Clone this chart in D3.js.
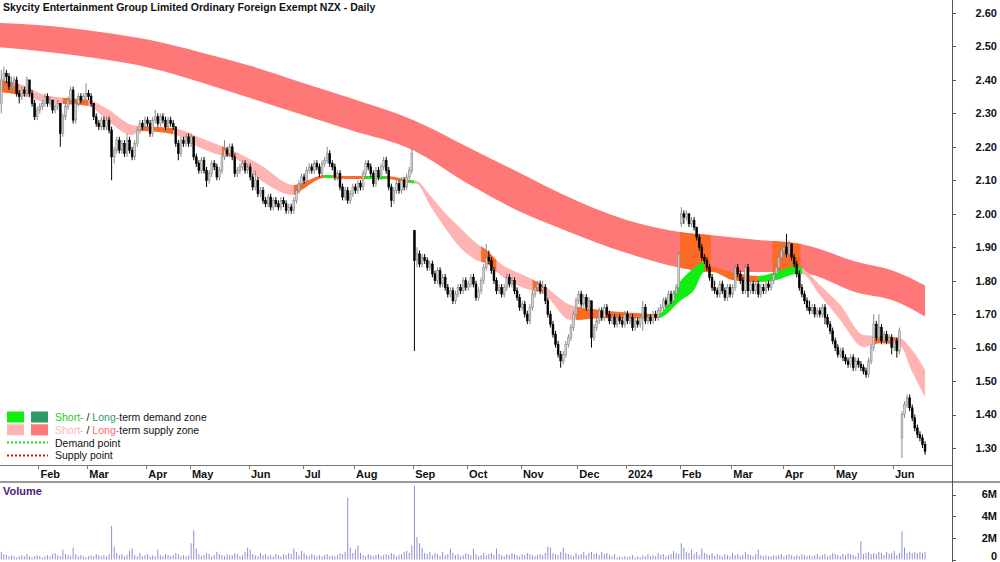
<!DOCTYPE html>
<html>
<head>
<meta charset="utf-8">
<script src="https://cdn.jsdelivr.net/npm/d3@7"></script>
<style>
body { margin: 0; background: #fff; }
svg text { font-family: Arial, "Liberation Sans", sans-serif; }
</style>
</head>
<body>
<svg id="chart" width="1000" height="562"></svg>
<script>
// daily bars [open, high, low, close] in cents, starting 11 Jan 2023
const ohlc = [
[233,243,230,240],[240,244,238,242],[242,243,239,241],[241,242,237,238],[238,241,236,238],[238,241,237,240],[240,241,235,236],[236,237,233,235],[235,238,234,237],[237,238,235,236],
[236,241,235,240],[240,240,235,236],[236,237,232,233],[233,234,228,229],[229,232,228,231],[231,233,230,232],[232,234,231,233],[233,236,232,235],[235,236,232,233],[233,235,232,234],
[234,234,230,231],[231,233,230,232],[232,234,231,233],[233,233,220,224],[224,230,223,229],[229,233,228,232],[232,235,231,234],[234,238,233,237],[237,238,227,228],[228,234,227,233],
[233,236,232,235],[235,236,233,234],[234,236,233,235],[235,239,234,236],[236,237,234,235],[235,236,232,233],[233,233,228,229],[229,230,226,227],[227,228,225,226],[226,229,225,228],
[228,229,225,226],[226,229,225,228],[228,229,224,225],[225,226,210,217],[217,220,215,219],[219,223,218,222],[222,223,218,219],[219,222,218,221],[221,222,217,218],[218,224,217,222],
[222,223,218,219],[219,220,216,217],[217,222,216,221],[221,226,220,225],[225,228,224,227],[227,228,225,226],[226,229,225,228],[228,229,226,227],[227,228,223,224],[224,229,223,228],
[228,231,227,229],[229,230,226,227],[227,230,226,229],[229,230,227,228],[228,229,225,226],[226,229,225,228],[228,229,226,227],[227,228,225,226],[226,226,220,221],[221,222,216,218],
[218,223,217,222],[222,223,220,221],[221,224,220,223],[223,224,220,221],[221,224,220,223],[223,223,216,217],[217,218,214,215],[215,216,212,213],[213,217,212,216],[216,217,212,213],
[213,214,208,210],[210,213,209,212],[212,216,211,215],[215,216,213,214],[214,215,210,211],[211,214,210,213],[213,218,212,217],[217,222,216,219],[219,220,217,218],[218,221,217,220],
[220,221,216,217],[217,218,211,212],[212,214,211,213],[213,215,212,214],[214,216,213,215],[215,216,212,213],[213,215,212,214],[214,215,210,211],[211,212,207,208],[208,213,207,210],
[210,211,205,206],[206,208,205,207],[207,208,203,204],[204,205,202,203],[203,206,202,205],[205,206,201,202],[202,205,201,204],[204,205,202,203],[203,204,201,202],[202,205,201,204],
[204,205,202,203],[203,204,200,201],[201,203,200,202],[202,203,200,201],[201,205,200,204],[204,208,203,207],[207,210,206,209],[209,212,208,211],[211,212,209,210],[210,214,209,213],
[213,215,212,214],[214,215,212,213],[213,216,212,215],[215,216,213,214],[214,215,211,212],[212,216,211,215],[215,217,214,216],[216,220,215,218],[218,219,214,215],[215,216,213,214],
[214,215,210,211],[211,213,210,212],[212,213,207,208],[208,209,204,205],[205,208,204,207],[207,208,203,204],[204,207,203,206],[206,209,205,208],[208,209,206,207],[207,210,206,209],
[209,210,207,208],[208,213,207,212],[212,216,211,215],[215,216,213,214],[214,215,211,212],[212,213,208,209],[209,214,208,213],[213,214,210,211],[211,215,210,214],[214,217,213,216],
[216,217,212,213],[213,214,207,208],[208,209,202,204],[204,208,203,207],[207,210,206,209],[209,210,206,207],[207,211,206,210],[210,211,207,208],[208,212,207,211],[211,214,210,213],
[213,220,212,218],[195,195,159,186],[186,190,184,188],[188,189,184,185],[185,188,184,187],[187,188,185,186],[186,187,183,184],[184,186,183,185],[185,186,181,182],[182,183,179,180],
[180,184,179,183],[183,184,178,179],[179,182,178,181],[181,182,177,178],[178,179,175,176],[176,178,175,177],[177,178,173,174],[174,177,173,176],[176,179,175,178],[178,179,176,177],
[177,181,176,180],[180,181,177,178],[178,180,177,179],[179,182,178,181],[181,182,178,179],[179,180,174,175],[175,178,174,177],[177,181,176,180],[180,185,179,184],[184,191,183,187],
[187,189,185,186],[186,187,182,183],[183,184,179,180],[180,181,176,177],[177,179,176,178],[178,179,175,176],[176,179,175,178],[178,182,177,181],[181,182,178,179],[179,181,178,180],
[180,181,176,177],[177,178,174,175],[175,176,171,172],[172,174,171,173],[173,174,169,170],[170,171,167,168],[168,173,167,172],[172,177,171,176],[176,179,175,178],[178,180,177,179],
[179,180,176,177],[177,180,176,178],[178,179,173,174],[174,175,169,170],[170,171,166,167],[167,168,163,164],[164,165,160,161],[161,162,157,158],[158,159,154,156],[156,159,155,158],
[158,162,157,161],[161,164,160,163],[163,167,162,166],[166,171,165,170],[170,175,169,174],[174,177,173,176],[176,177,172,173],[173,176,172,175],[175,176,171,172],[172,175,171,174],
[174,174,160,163],[163,167,162,166],[166,169,165,168],[168,172,167,171],[171,172,168,169],[169,173,168,172],[172,173,169,170],[170,171,167,168],[168,170,167,169],[169,170,166,167],
[167,170,166,169],[169,170,167,168],[168,169,166,167],[167,171,166,170],[170,171,167,168],[168,170,167,169],[169,170,165,166],[166,169,165,168],[168,169,166,167],[167,170,166,169],
[169,174,165,172],[172,173,167,168],[168,170,167,169],[169,170,167,168],[168,171,167,170],[170,171,168,169],[169,172,168,171],[171,173,170,172],[172,175,171,174],[174,175,172,173],
[173,177,172,176],[176,177,173,174],[174,177,173,176],[176,179,175,178],[178,189,177,188],[197,202,196,200],[200,201,197,199],[199,201,198,200],[200,200,196,197],[197,199,196,198],
[198,199,195,196],[196,196,192,193],[193,194,189,190],[190,191,186,187],[187,188,185,186],[186,187,183,184],[184,185,180,181],[181,182,177,178],[178,180,176,177],[177,178,175,176],
[176,180,175,179],[179,180,176,177],[177,178,174,175],[175,179,174,178],[178,179,175,176],[176,179,175,178],[178,185,177,184],[184,185,181,182],[182,183,179,180],[180,181,176,177],
[177,185,176,184],[184,185,175,177],[177,180,176,179],[179,180,176,177],[177,180,176,179],[179,180,175,176],[176,179,175,178],[178,179,176,177],[177,180,176,179],[179,180,177,178],
[178,181,177,180],[180,183,179,182],[182,185,181,184],[184,188,183,187],[187,190,186,189],[189,191,187,190],[190,194,187,188],[188,192,187,191],[191,191,186,187],[187,188,184,185],
[185,186,181,182],[182,183,177,178],[178,179,175,176],[176,177,173,174],[174,175,171,172],[172,174,170,171],[171,173,170,172],[172,173,169,170],[170,172,169,171],[171,172,169,170],
[170,173,169,172],[172,173,167,169],[169,170,166,167],[167,168,164,165],[165,166,161,162],[162,163,159,160],[160,161,157,158],[158,160,157,159],[159,160,156,157],[157,158,155,156],
[156,157,154,155],[155,158,154,157],[157,158,153,154],[154,157,153,156],[156,157,154,155],[155,156,153,154],[154,155,152,153],[153,154,151,152],[152,157,151,156],[156,161,155,160],
[160,170,159,167],[167,168,162,163],[163,170,162,166],[166,167,161,162],[162,165,161,164],[164,165,161,162],[162,164,161,163],[163,164,158,160],[160,163,159,162],[162,163,157,159],
[159,166,158,165],[133,141,127,140],[140,144,139,143],[143,146,142,145],[145,146,141,142],[142,143,138,139],[139,140,135,136],[136,137,133,134],[134,135,132,133],[133,134,130,131],
[131,132,128,129]
];

// volume per bar, in units of 100k shares
const volumes = [
7,5,4,3,4,3,2,3,4,3, 5,3,2,3,4,3,2,3,4,3, 5,6,4,3,9,5,4,3,11,5, 3,4,3,2,3,4,3,5,4,3,
4,3,5,31,12,6,4,5,3,4, 8,10,4,3,6,3,4,5,3,4, 3,9,4,3,5,4,3,4,6,5, 3,4,3,4,15,27,10,5,3,4,
6,5,3,4,7,5,4,3,5,4, 4,6,5,3,4,7,11,9,5,4, 3,6,4,5,3,4,3,5,4,3, 5,4,6,5,10,7,4,8,6,4,
3,5,4,3,4,3,4,5,3,4, 3,4,6,5,7,57,11,6,9,13, 6,4,3,5,4,3,4,5,3,4, 5,4,6,5,3,4,5,7,8,6,
13,68,21,15,11,6,5,7,4,6, 5,3,7,4,5,10,6,4,5,3, 4,6,5,4,10,5,3,4,6,4, 5,6,4,10,5,4,3,5,4,6,
5,4,3,5,4,6,5,4,3,4, 5,4,6,12,11,6,5,4,7,11, 6,5,4,3,6,4,5,7,4,6, 7,5,6,4,7,5,6,4,3,5,
2,3,2,3,2,3,4,2,3,2, 4,3,5,3,4,3,6,4,5,3, 4,5,8,6,5,15,11,7,6,9, 5,7,4,10,6,5,4,6,3,5,
4,3,5,4,3,6,4,5,3,4, 7,5,4,3,5,9,4,3,4,3, 3,4,3,4,5,3,4,5,4,3, 4,3,5,4,3,4,3,4,5,3,
4,5,3,4,6,5,4,3,5,4, 6,5,4,3,6,17,5,6,7,5, 6,5,7,6,4,7,5,6,8,4, 6,26,11,6,7,6,7,6,7,6,
7
];

// NZX holidays in the period
const holidays = ["2023-02-06","2023-04-07","2023-04-10","2023-04-25","2023-06-05","2023-07-14",
  "2023-10-23","2023-12-25","2023-12-26","2024-01-01","2024-01-02","2024-02-06","2024-03-29",
  "2024-04-01","2024-04-25","2024-06-03"];

// long-term supply band [bar, top, bottom] (cents)
const longBand = [
[-0.5,257.0,249.8],[19,256.1,248.3],[38.5,254.3,246.3],[58,251.9,243.6],[77.4,248.3,239.4],[97,244.2,234.6],
[116.4,239.4,229.8],[136,234.6,225.0],[160.5,228.0,219.0],[182.7,219.6,208.6],[206,210.7,199.3],
[217.7,206.2,195.7],[244,198.1,188.2],[265,194.5,183.8],[277,193.6,182.6],[296,192.1,182.6],[312,190.9,182.3],
[334,185.5,176.3],[347,183.1,174.2],[360,178.6,169.3]
];
// bars where the long band turns orange
const longOverlap = [[264.5,276.5],[300.5,311.5]];

// short-term band [bar, top, bottom] (cents)
const shortBand = [
[-0.5,240.0,236.4],[7,238.8,235.5],[17,235.5,233.4],[25,234.6,232.8],[34,234.0,232.2],[42,231.0,227.4],
[51,226.5,223.5],[54,226.2,224.7],[67,225.6,223.8],[78,222.6,219.6],[85,220.5,217.6],[90,219.0,217.0],
[101,214.6,210.1],[114,208.6,205.6],[117,209.2,207.1],[126,211.6,210.7],[134,211.3,210.4],[142,211.3,210.4],
[150,211.3,210.4],[159,210.1,209.2],[162,209.8,208.9],[167,205.6,202.6],[173,200.2,195.7],[179,195.7,189.8],
[185,191.3,186.2],[190,188.6,184.7],[193,186.2,182.6],[206,180.8,177.2],[211,178.7,176.3],[222,172.7,168.2],
[234,171.2,168.8],[249,170.3,168.8],[256,170.0,168.8],[265,180.2,174.2],[270,183.8,177.2],[274,185.6,182.6],
[277,184.4,182.6],[285,182.6,180.2],[295,181.4,179.6],[302,182.6,180.2],[310,184.4,182.0],[312,183.8,182.0],
[319,178.7,175.7],[327,172.7,168.2],[336,163.8,160.2],[343,163.5,161.4],[350,162.9,160.8],[355,159.3,152.7],
[360,153.3,145.2]
];
// state of the short band: supply (pink), demand (green), mix (orange)
const shortZones = [
[-0.5,7,"mix"],[7,24,"supply"],[24,34,"mix"],[34,54,"supply"],[54,67,"mix"],[67,86,"supply"],
[86,90,"mix"],[90,114,"supply"],[114,126,"mix"],[126,129,"demand"],[129,142,"mix"],[142,150,"demand"],
[150,159,"mix"],[159,161,"demand"],[161,187,"supply"],[187,193,"mix"],[193,207,"supply"],[207,211,"mix"],
[211,224,"supply"],[224,256,"mix"],[256,274,"demand"],[274,295,"mix"],[295,312,"demand"],[312,340,"supply"],
[340,350,"mix"],[350,361,"supply"]
];

const priceTicks = [2.6,2.5,2.4,2.3,2.2,2.1,2.0,1.9,1.8,1.7,1.6,1.5,1.4,1.3];
const volTicks = [6e6,4e6,2e6,0];
const volLabels = ["6M","4M","2M","0"];

const zoneColor = { supply: "#ffb4b4", demand: "#11ee11", mix: "#fb6b26" };

const svg = d3.select("#chart");
const plotW = 952;
const priceBottom = 465;

const x = d3.scaleLinear().domain([-0.5, 370.5]).range([0, plotW]);
const y = d3.scaleLinear().domain([1.30, 2.60]).range([448, 13]);
const yv = d3.scaleLinear().domain([0, 6e6]).range([559.5, 494.5]);

// trading dates
const dates = [];
let day = new Date(Date.UTC(2023, 0, 11));
while (dates.length < ohlc.length) {
  const wd = day.getUTCDay();
  const key = day.toISOString().slice(0, 10);
  if (wd !== 0 && wd !== 6 && !holidays.includes(key)) dates.push(new Date(day));
  day.setUTCDate(day.getUTCDate() + 1);
}

const defs = svg.append("defs");
defs.append("clipPath").attr("id", "priceClip")
  .append("rect").attr("x", 0).attr("y", 0).attr("width", plotW).attr("height", priceBottom);

const price = svg.append("g").attr("clip-path", "url(#priceClip)");

function bandArea() {
  return d3.area()
    .x(d => x(d[0]))
    .y0(d => y(d[2] / 100))
    .y1(d => y(d[1] / 100))
    .curve(d3.curveMonotoneX);
}

// long-term band
price.append("path").datum(longBand)
  .attr("d", bandArea())
  .attr("fill", "#ff7878");

longOverlap.forEach((seg, i) => {
  defs.append("clipPath").attr("id", "lo" + i)
    .append("rect").attr("x", x(seg[0])).attr("y", 0)
    .attr("width", x(seg[1]) - x(seg[0])).attr("height", priceBottom);
  price.append("path").datum(longBand)
    .attr("d", bandArea())
    .attr("fill", zoneColor.mix)
    .attr("clip-path", "url(#lo" + i + ")");
});

// short-term band, coloured by state
shortZones.forEach((seg, i) => {
  defs.append("clipPath").attr("id", "sz" + i)
    .append("rect").attr("x", x(seg[0])).attr("y", 0)
    .attr("width", x(seg[1]) - x(seg[0]) + 0.3).attr("height", priceBottom);
  price.append("path").datum(shortBand)
    .attr("d", bandArea())
    .attr("fill", zoneColor[seg[2]])
    .attr("clip-path", "url(#sz" + i + ")");
});

// candles
const candles = price.selectAll("g.candle")
  .data(ohlc)
  .enter()
  .append("g")
  .attr("class", "candle");

candles.append("line")
  .attr("x1", (d, i) => x(i)).attr("x2", (d, i) => x(i))
  .attr("y1", d => y(d[1] / 100)).attr("y2", d => y(d[2] / 100))
  .attr("stroke", d => d[3] >= d[0] ? "#8a8a8a" : "#000")
  .attr("stroke-width", 1);

candles.append("rect")
  .attr("x", (d, i) => x(i) - 0.9)
  .attr("width", 1.8)
  .attr("y", d => y(Math.max(d[0], d[3]) / 100))
  .attr("height", d => Math.max(1, Math.abs(y(d[0] / 100) - y(d[3] / 100))))
  .attr("fill", d => d[3] >= d[0] ? "#d4d4d4" : "#000")
  .attr("stroke", d => d[3] >= d[0] ? "#8a8a8a" : "#000")
  .attr("stroke-width", 0.6);

// volume bars
svg.append("g").selectAll("line")
  .data(volumes)
  .enter()
  .append("line")
  .attr("x1", (d, i) => x(i)).attr("x2", (d, i) => x(i))
  .attr("y1", yv(0)).attr("y2", d => yv(d * 1e5))
  .attr("stroke", "#8f8fd4")
  .attr("stroke-width", 1);

// frame lines
svg.append("line").attr("x1", 0).attr("x2", plotW + 0.5).attr("y1", priceBottom + 0.5).attr("y2", priceBottom + 0.5)
  .attr("stroke", "#777");
svg.append("line").attr("x1", 0).attr("x2", 1000).attr("y1", 482).attr("y2", 482)
  .attr("stroke", "#999").attr("stroke-width", 2);
svg.append("line").attr("x1", plotW + 0.5).attr("x2", plotW + 0.5).attr("y1", 0).attr("y2", 562)
  .attr("stroke", "#555");

// price axis
const pa = svg.append("g");
pa.selectAll("line").data(priceTicks).enter().append("line")
  .attr("x1", plotW).attr("x2", plotW + 4)
  .attr("y1", d => Math.round(y(d)) + 0.5).attr("y2", d => Math.round(y(d)) + 0.5)
  .attr("stroke", "#555");
pa.selectAll("text").data(priceTicks).enter().append("text")
  .attr("x", 997).attr("y", d => y(d)).attr("dy", "0.35em")
  .attr("text-anchor", "end")
  .attr("font-size", 11).attr("font-weight", "bold").attr("fill", "#111")
  .text(d => d.toFixed(2));

// volume axis
const va = svg.append("g");
va.selectAll("line").data(volTicks).enter().append("line")
  .attr("x1", plotW).attr("x2", plotW + 4)
  .attr("y1", d => Math.round(yv(d)) + 0.5).attr("y2", d => Math.round(yv(d)) + 0.5)
  .attr("stroke", "#555");
va.selectAll("text").data(volTicks).enter().append("text")
  .attr("x", 997).attr("y", d => Math.min(yv(d), 556)).attr("dy", "0.35em")
  .attr("text-anchor", "end")
  .attr("font-size", 11).attr("font-weight", "bold").attr("fill", "#111")
  .text((d, i) => volLabels[i]);

// month ticks
const monthIdx = [];
dates.forEach((d, i) => {
  if (i > 0 && d.getUTCMonth() !== dates[i - 1].getUTCMonth()) monthIdx.push(i);
});
const xa = svg.append("g");
xa.selectAll("line").data(monthIdx).enter().append("line")
  .attr("x1", i => Math.round(x(i - 0.5)) + 0.5).attr("x2", i => Math.round(x(i - 0.5)) + 0.5)
  .attr("y1", priceBottom).attr("y2", priceBottom + 4)
  .attr("stroke", "#777");
xa.selectAll("text").data(monthIdx).enter().append("text")
  .attr("x", i => x(i - 0.5) + 2).attr("y", 478)
  .attr("font-size", 11).attr("font-weight", "bold").attr("fill", "#111")
  .text(i => dates[i].getUTCMonth() === 0 ? d3.utcFormat("%Y")(dates[i]) : d3.utcFormat("%b")(dates[i]));

// title and panel label
svg.append("text").attr("x", 3).attr("y", 11)
  .attr("font-size", 10.5).attr("font-weight", "bold").attr("fill", "#111")
  .text("Skycity Entertainment Group Limited Ordinary Foreign Exempt NZX - Daily");
svg.append("text").attr("x", 3).attr("y", 495)
  .attr("font-size", 11).attr("font-weight", "bold").attr("fill", "#4b1c7d")
  .text("Volume");

// legend
const lg = svg.append("g");
const rows = [
  { sq: ["#11ee11", "#2f9a66"], parts: [["Short-", "#22cc22"], [" / ", "#111"], ["Long-", "#2f9a66"], ["term demand zone", "#111"]] },
  { sq: ["#ffb4b4", "#ff7878"], parts: [["Short-", "#ffb4b4"], [" / ", "#111"], ["Long-", "#ff6868"], ["term supply zone", "#111"]] },
  { dot: "#11dd11", parts: [["Demand point", "#111"]] },
  { dot: "#dd1111", parts: [["Supply point", "#111"]] }
];
rows.forEach((r, k) => {
  const cy = 417 + k * 12.8;
  if (r.sq) {
    lg.append("rect").attr("x", 7).attr("y", cy - 5.5).attr("width", 17).attr("height", 11).attr("fill", r.sq[0]);
    lg.append("rect").attr("x", 31).attr("y", cy - 5.5).attr("width", 17).attr("height", 11).attr("fill", r.sq[1]);
  } else {
    lg.append("line").attr("x1", 7).attr("x2", 48).attr("y1", cy).attr("y2", cy)
      .attr("stroke", r.dot).attr("stroke-width", 2).attr("stroke-dasharray", "2,2");
  }
  const t = lg.append("text").attr("x", 55).attr("y", cy + 4)
    .attr("font-size", 10.5).attr("fill", "#111");
  r.parts.forEach(p => t.append("tspan").attr("fill", p[1]).text(p[0]));
});
</script>
</body>
</html>
